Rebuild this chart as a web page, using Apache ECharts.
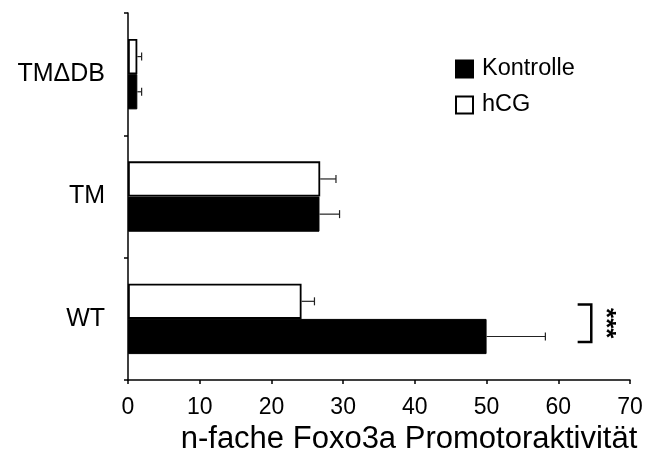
<!DOCTYPE html>
<html>
<head>
<meta charset="utf-8">
<script src="https://cdn.jsdelivr.net/npm/echarts@6/dist/echarts.min.js"></script>
<style>html,body{margin:0;padding:0;background:#fff}#c{width:651px;height:460px}</style>
</head>
<body>
<div id="c"></div>
<script>
// Data (categories bottom to top)
var categories = ['WT', 'TM', 'TM\u0394DB'];
var kontrolleValues = [50.0, 26.7, 1.3];
var kontrolleErrors = [8.2, 2.8, 0.6];
var hcgValues = [24.2, 26.8, 1.3];
var hcgErrors = [1.8, 2.2, 0.6];
var xTicks = [0, 10, 20, 30, 40, 50, 60, 70];
var axisTitle = 'n-fache Foxo3a Promotoraktivit\u00e4t';
var seriesNames = ['Kontrolle', 'hCG'];
var significance = {category: 0, text: '***', armFrom: 62.7, armTo: 64.6, textAt: 66.6};

var FONT = "'Liberation Sans', Arial, sans-serif";
var BAR_HALF = 0.1438; // fraction of band height from band center to bar center

function errData(vals, errs) {
  return vals.map(function (v, i) { return [v, errs[i], i]; });
}
function errRender(sign) {
  return function (params, api) {
    var v = api.value(0), e = api.value(1), c = api.value(2);
    var band = api.size([0, 1])[1];
    var p0 = api.coord([v, c]);
    var p1 = api.coord([v + e, c]);
    var y = p0[1] + sign * band * BAR_HALF;
    var st = {stroke: '#222', lineWidth: 1.2};
    return {
      type: 'group',
      children: [
        {type: 'line', shape: {x1: p0[0], y1: y, x2: p1[0], y2: y}, style: st},
        {type: 'line', shape: {x1: p1[0], y1: y - 4, x2: p1[0], y2: y + 4}, style: st}
      ]
    };
  };
}

var chart = echarts.init(document.getElementById('c'), null, {renderer: 'canvas'});
chart.setOption({
  animation: false,
  backgroundColor: '#fff',
  textStyle: {fontFamily: FONT},
  grid: {left: 128, right: 21, top: 13, bottom: 66, containLabel: false},
  legend: {
    orient: 'vertical',
    left: 450, top: 52,
    itemWidth: 17, itemHeight: 17, itemGap: 12,
    icon: 'rect',
    data: seriesNames,
    textStyle: {fontFamily: FONT, fontSize: 23.5, color: '#000', padding: [0, 0, 0, 4]}
  },
  xAxis: {
    type: 'value', min: 0, max: 70, interval: 10,
    axisLine: {show: true, lineStyle: {color: '#000', width: 1.5}},
    axisTick: {show: true, length: 4, lineStyle: {color: '#000', width: 1.5}},
    splitLine: {show: false},
    axisLabel: {fontFamily: FONT, fontSize: 23, color: '#000', margin: 16,
      formatter: function (v) { return xTicks.indexOf(v) >= 0 ? String(v) : ''; }},
    name: axisTitle, nameLocation: 'middle', nameGap: 43,
    nameTextStyle: {fontFamily: FONT, fontSize: 31, color: '#000', padding: [0, 0, 0, 60]}
  },
  yAxis: {
    type: 'category', data: categories,
    axisLine: {show: true, lineStyle: {color: '#000', width: 1.5}},
    axisTick: {show: true, length: 4, alignWithLabel: false, lineStyle: {color: '#000', width: 1.5}},
    axisLabel: {fontFamily: FONT, fontSize: 25, color: '#000', margin: 23}
  },
  series: [
    {name: seriesNames[1], type: 'bar', data: hcgValues, barGap: '0%', barCategoryGap: '42.5%',
      itemStyle: {color: '#fff', borderColor: '#000', borderWidth: 1.8}},
    {name: seriesNames[0], type: 'bar', data: kontrolleValues, barGap: '0%', barCategoryGap: '42.5%',
      itemStyle: {color: '#000', borderColor: '#000', borderWidth: 1}},
    {type: 'custom', data: errData(kontrolleValues, kontrolleErrors), renderItem: errRender(1), z: 5,
      encode: {x: 0, y: 2}, silent: true},
    {type: 'custom', data: errData(hcgValues, hcgErrors), renderItem: errRender(-1), z: 5,
      encode: {x: 0, y: 2}, silent: true},
    {type: 'custom', silent: true, z: 6,
      data: [[significance.armFrom, significance.armTo, significance.category, significance.textAt]],
      encode: {x: [0, 1], y: 2},
      renderItem: function (params, api) {
        var c = api.value(2);
        var band = api.size([0, 1])[1];
        var pa = api.coord([api.value(0), c]);
        var pb = api.coord([api.value(1), c]);
        var pt = api.coord([api.value(3), c]);
        var yt = pa[1] - band * 0.117, yb = pa[1] + band * 0.188;
        var st = {stroke: '#000', lineWidth: 2.5, fill: null};
        return {type: 'group', children: [
          {type: 'polyline', shape: {points: [[pa[0], yt], [pb[0], yt], [pb[0], yb], [pa[0], yb]]}, style: st},
          {type: 'text', x: pt[0], y: (yt + yb) / 2, rotation: -Math.PI / 2,
            style: {text: significance.text, font: 'bold 26px ' + FONT, fill: '#000',
              align: 'center', verticalAlign: 'middle'}}
        ]};
      }}
  ]
});
</script>
</body>
</html>
